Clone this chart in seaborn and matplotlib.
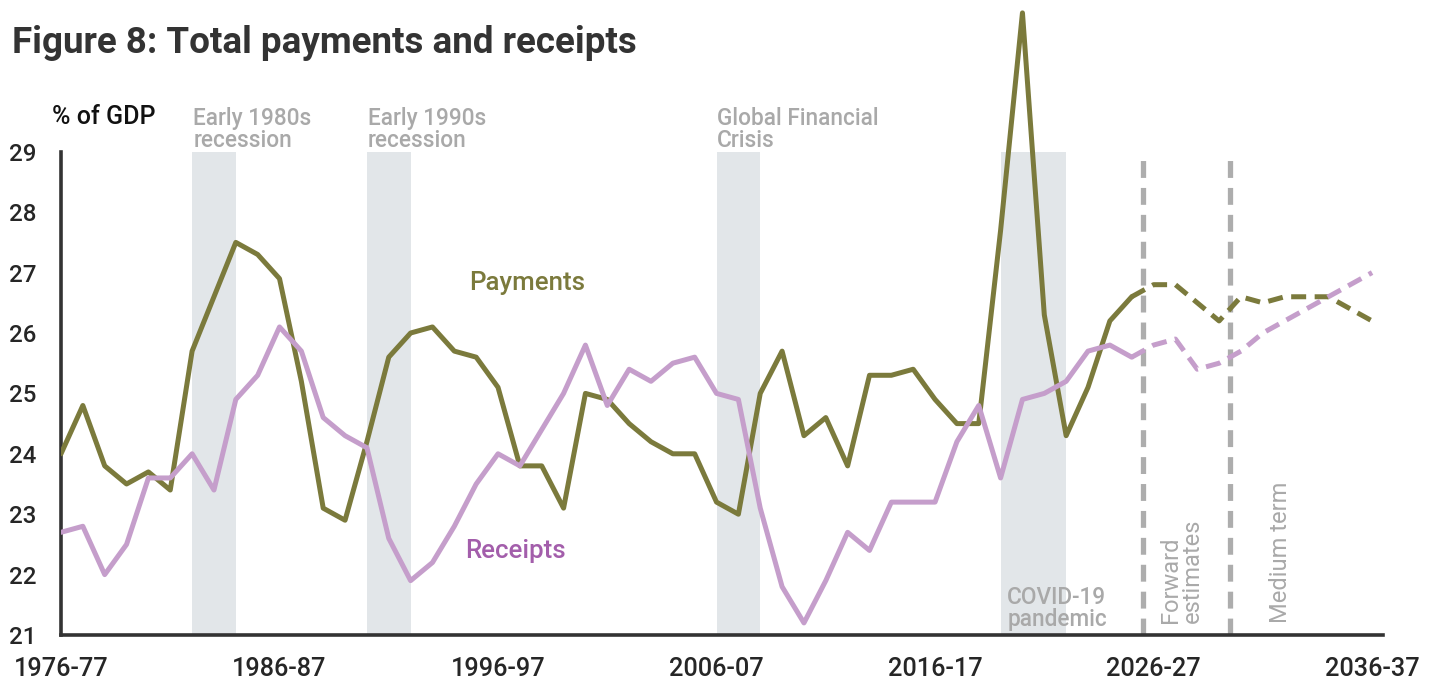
import matplotlib
matplotlib.use("Agg")
import matplotlib.pyplot as plt
import seaborn as sns
import pandas as pd

# Financial years: 1976-77 (start year 1976) to 2036-37
start_years = list(range(1976, 2037))
tick_positions = [1976, 1986, 1996, 2006, 2016, 2026, 2036]
tick_labels = ["1976-77", "1986-87", "1996-97", "2006-07", "2016-17", "2026-27", "2036-37"]

# Outcomes, 1976-77 to 2025-26 (% of GDP)
payments_actual = [24.0, 24.8, 23.8, 23.5, 23.7, 23.4, 25.7, 26.6, 27.5, 27.3,
                   26.9, 25.2, 23.1, 22.9, 24.2, 25.6, 26.0, 26.1, 25.7, 25.6,
                   25.1, 23.8, 23.8, 23.1, 25.0, 24.9, 24.5, 24.2, 24.0, 24.0,
                   23.2, 23.0, 25.0, 25.7, 24.3, 24.6, 23.8, 25.3, 25.3, 25.4,
                   24.9, 24.5, 24.5, 27.7, 31.3, 26.3, 24.3, 25.1, 26.2, 26.6]
receipts_actual = [22.7, 22.8, 22.0, 22.5, 23.6, 23.6, 24.0, 23.4, 24.9, 25.3,
                   26.1, 25.7, 24.6, 24.3, 24.1, 22.6, 21.9, 22.2, 22.8, 23.5,
                   24.0, 23.8, 24.4, 25.0, 25.8, 24.8, 25.4, 25.2, 25.5, 25.6,
                   25.0, 24.9, 23.1, 21.8, 21.2, 21.9, 22.7, 22.4, 23.2, 23.2,
                   23.2, 24.2, 24.8, 23.6, 24.9, 25.0, 25.2, 25.7, 25.8, 25.6]

# Projections, 2025-26 to 2036-37
payments_proj = [26.6, 26.8, 26.8, 26.5, 26.2, 26.6, 26.5, 26.6, 26.6, 26.6, 26.4, 26.2]
receipts_proj = [25.6, 25.8, 25.9, 25.4, 25.5, 25.7, 26.0, 26.2, 26.4, 26.6, 26.8, 27.0]

# Downturn periods (start year, end year)
recessions = [(1982, 1984), (1990, 1992), (2006, 2008), (2019, 2022)]
# Boundaries: budget year | forward estimates | medium term
period_marks = [2025.5, 2029.5]

PAY = "#7b7a3c"
REC = "#c59ecb"
REC_TXT = "#a35eab"
GREY_TXT = "#a9a9a9"
SHADE = "#e2e6e9"
INK = "#262626"

sns.set_style("white")
plt.rcParams["font.family"] = ["Roboto", "DejaVu Sans"]

n_act = len(payments_actual)
df_act = pd.DataFrame({
    "year": start_years[:n_act] * 2,
    "value": payments_actual + receipts_actual,
    "series": ["Payments"] * n_act + ["Receipts"] * n_act,
})
n_proj = len(payments_proj)
proj_years = start_years[n_act - 1:]
df_proj = pd.DataFrame({
    "year": proj_years * 2,
    "value": payments_proj + receipts_proj,
    "series": ["Payments"] * n_proj + ["Receipts"] * n_proj,
})

W, H = 1436, 680
fig = plt.figure(figsize=(W / 100, H / 100), dpi=100)
ax_left, ax_right, ax_bottom = 61 / W, 1383 / W, 1 - 635 / H
ax = fig.add_axes([ax_left, ax_bottom, ax_right - ax_left, 1 - ax_bottom])

ax.set_xlim(1976, 1976 + 60.5)
ax.set_ylim(21, 21 + 635 / 60.4)

for a, b in recessions:
    ax.fill_between([a, b], 21, 29, color=SHADE, lw=0, zorder=0)

for xm in period_marks:
    ax.plot([xm, xm], [21, 29], color="#adadad", lw=3.8,
            linestyle=(0, (3.2, 1.9)), zorder=1)

palette = {"Payments": PAY, "Receipts": REC}
sns.lineplot(data=df_act, x="year", y="value", hue="series", palette=palette,
             lw=3.6, legend=False, ax=ax, zorder=3)
sns.lineplot(data=df_proj, x="year", y="value", hue="series", palette=palette,
             lw=3.6, legend=False, ax=ax, zorder=3)
for line in ax.get_lines()[-2:]:
    line.set_linestyle((0, (3.0, 1.7)))
for line in ax.get_lines()[-4:]:
    line.set_solid_joinstyle("round")
    line.set_solid_capstyle("round")
    line.set_dash_capstyle("butt")

# Axes styling
for s in ["top", "right"]:
    ax.spines[s].set_visible(False)
for s in ["left", "bottom"]:
    ax.spines[s].set_color("#333333")
    ax.spines[s].set_linewidth(2.6)
ax.spines["left"].set_bounds(21, 29)
ax.set_yticks(range(21, 30))
ax.set_xticks(tick_positions)
ax.set_xticklabels(tick_labels)
ax.tick_params(axis="both", direction="in", length=5, width=2.4, color="#333333",
               labelcolor=INK)
ax.tick_params(axis="y", pad=17.5, labelsize=17.3)
ax.tick_params(axis="x", pad=15.5, labelsize=18.2)
for lab in ax.get_xticklabels() + ax.get_yticklabels():
    lab.set_fontweight("medium")
ax.set_xlabel("")
ax.set_ylabel("")

# Titles
fig.text(12 / W, 1 - 43 / H, "Figure 8: Total payments and receipts", fontsize=26.5,
         fontweight="bold", color="#333333", va="center", ha="left")
fig.text(52 / W, 1 - 117 / H, "% of GDP", fontsize=18, fontweight="medium",
         color="#111111", va="center", ha="left")

# Event labels
ann = dict(fontsize=16.3, color=GREY_TXT, fontweight="medium", linespacing=0.95)
ax.text(1982.05, 29.0, "Early 1980s\nrecession", ha="left", va="bottom", **ann)
ax.text(1990.05, 29.0, "Early 1990s\nrecession", ha="left", va="bottom", **ann)
ax.text(2006.0, 29.0, "Global Financial\nCrisis", ha="left", va="bottom", **ann)
ax.text(2019.3, 21.06, "COVID-19\npandemic", ha="left", va="bottom", **ann)

rot = dict(fontsize=17, color=GREY_TXT, rotation=90, linespacing=0.95)
ax.text(2026.25, 21.2, "Forward\nestimates", ha="left", va="bottom", **rot)
ax.text(2031.3, 21.2, "Medium term", ha="left", va="bottom", **rot)

# Series labels
ax.text(1994.7, 26.83, "Payments", color=PAY, fontsize=18.6, fontweight="medium",
        ha="left", va="center")
ax.text(1994.5, 22.39, "Receipts", color=REC_TXT, fontsize=18.6, fontweight="medium",
        ha="left", va="center")

fig.savefig("out.png", dpi=100)
